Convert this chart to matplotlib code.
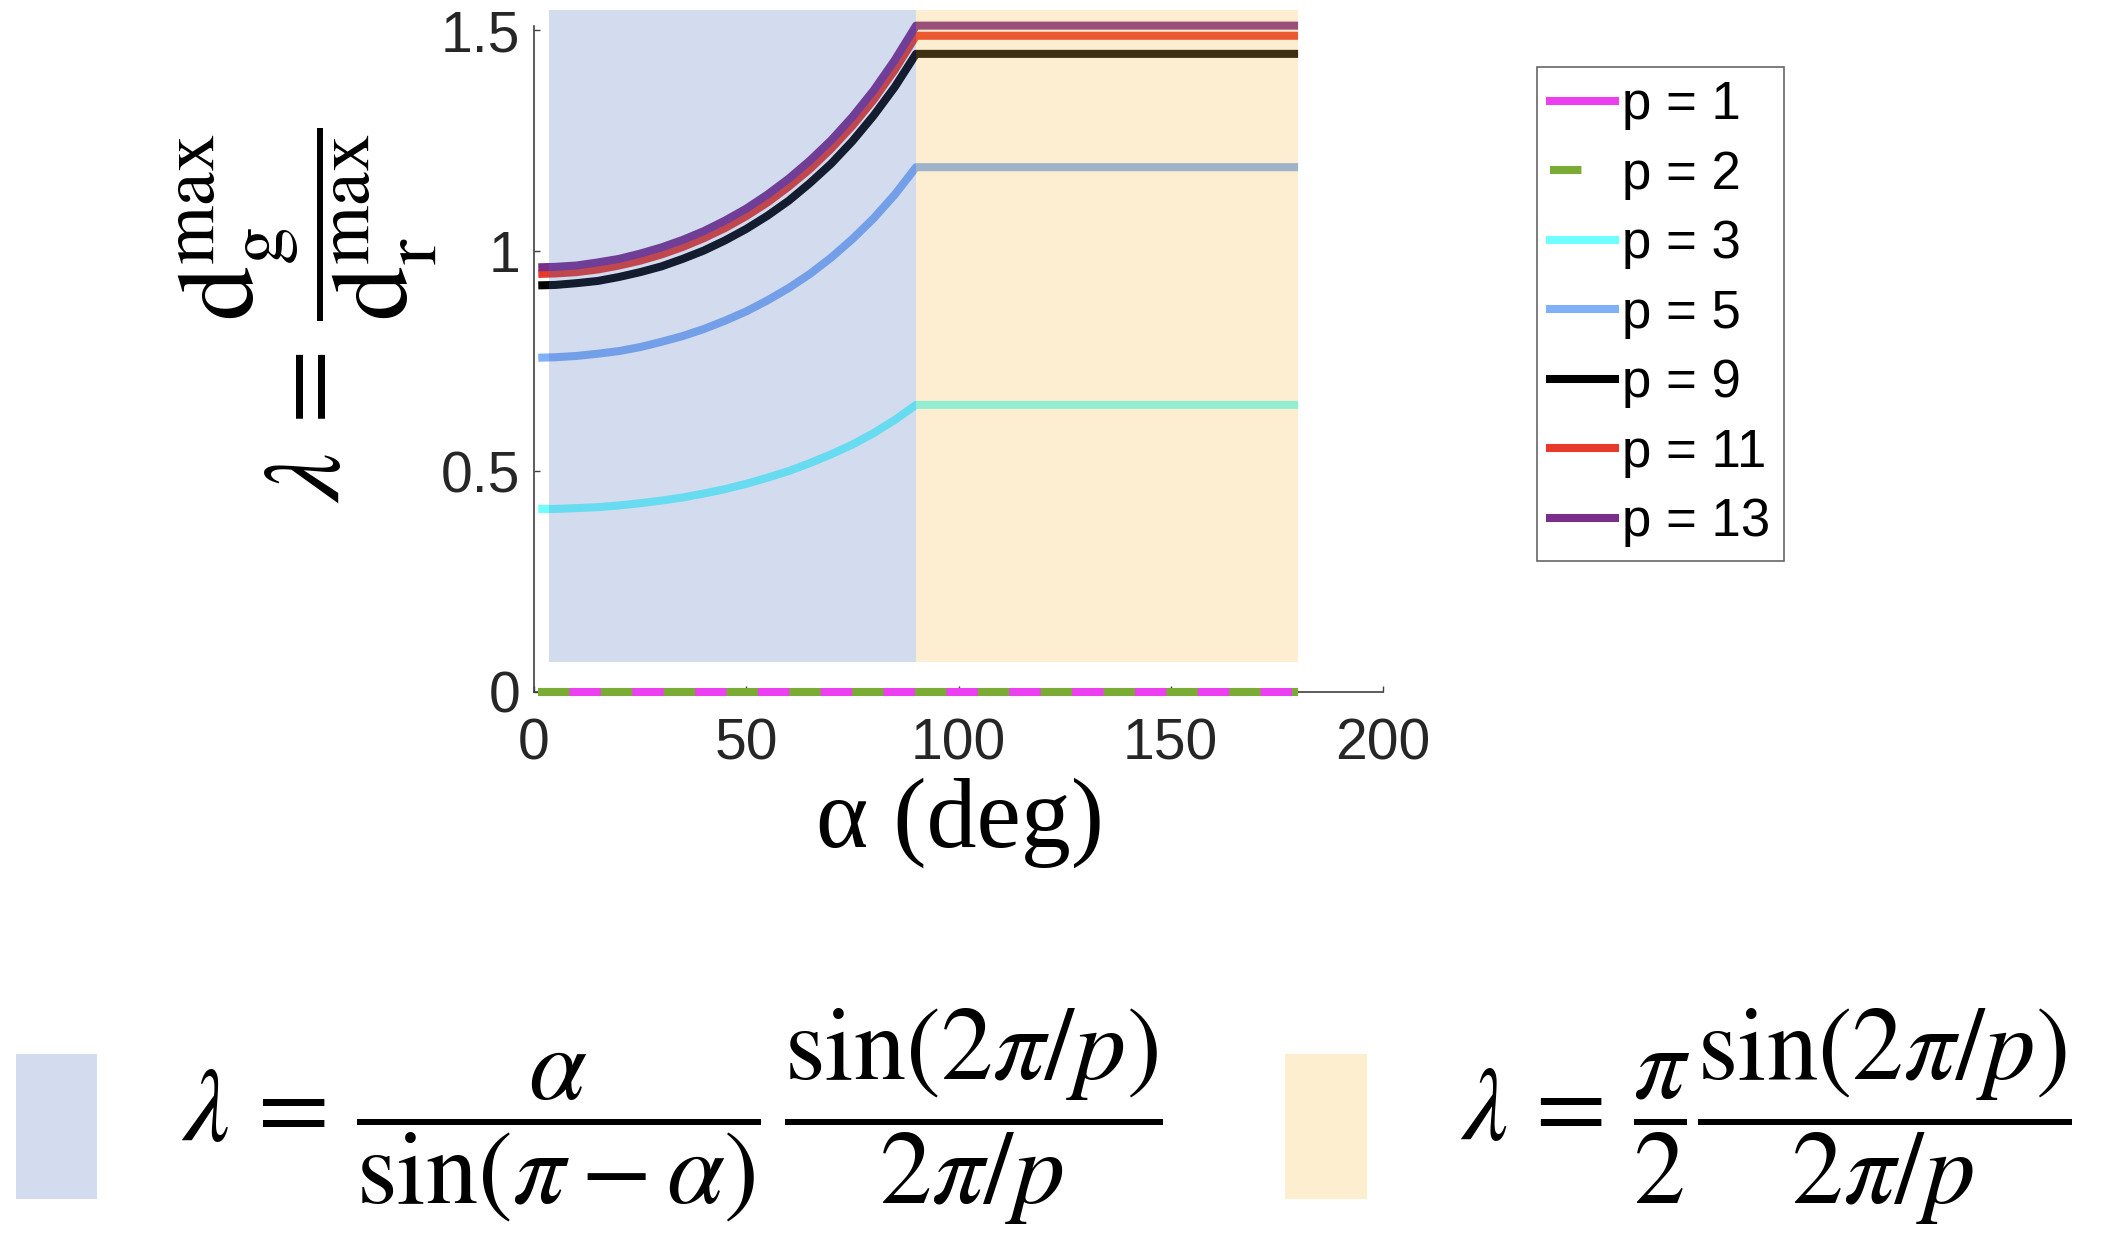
import numpy as np
import matplotlib
matplotlib.use('Agg')
import matplotlib.pyplot as plt
from matplotlib.lines import Line2D
from matplotlib.patches import Rectangle

# Data
alpha_deg = [1, 5, 10, 15, 20, 25, 30, 35, 40, 45, 50, 55, 60, 65, 70, 75, 80, 85, 90, 180]
alpha_flat = [1, 180]
lam_p1 = [0.0, 0.0]
lam_p2 = [0.0, 0.0]
lam_p3 = [0.414, 0.414, 0.416, 0.418, 0.422, 0.427, 0.433, 0.440, 0.449, 0.459,
          0.471, 0.485, 0.500, 0.518, 0.538, 0.560, 0.586, 0.616, 0.650, 0.650]
lam_p5 = [0.757, 0.758, 0.761, 0.766, 0.772, 0.781, 0.793, 0.806, 0.822, 0.841,
          0.862, 0.887, 0.915, 0.947, 0.984, 1.026, 1.073, 1.127, 1.189, 1.189]
lam_p9 = [0.921, 0.922, 0.926, 0.931, 0.940, 0.951, 0.964, 0.981, 1.000, 1.023,
          1.049, 1.079, 1.113, 1.153, 1.197, 1.248, 1.306, 1.371, 1.446, 1.446]
lam_p11 = [0.947, 0.948, 0.951, 0.957, 0.966, 0.977, 0.991, 1.008, 1.028, 1.051,
           1.078, 1.109, 1.145, 1.185, 1.231, 1.283, 1.342, 1.410, 1.487, 1.487]
lam_p13 = [0.962, 0.963, 0.966, 0.973, 0.981, 0.993, 1.007, 1.024, 1.044, 1.068,
           1.095, 1.127, 1.163, 1.204, 1.250, 1.303, 1.363, 1.432, 1.510, 1.510]
labels = ['p = 1', 'p = 2', 'p = 3', 'p = 5', 'p = 9', 'p = 11', 'p = 13']

# Shaded regions (alpha < 90 and alpha >= 90)
region_x = [3.5, 90, 180]
region_y = [0.067, 1.545]

colors = ['#ec40f0', '#7aab35', '#70ffff', '#80b0f8', '#000000', '#e83a2a', '#7b2d8a']
shade = ['#5070c0', '#f8b848']
lw = 5.8

plt.rcParams['mathtext.fontset'] = 'stix'
sans = 'Liberation Sans'
serif = 'Liberation Serif'

fig = plt.figure(figsize=(21.05, 12.38), dpi=100)
ax = fig.add_axes([0.2537, 0.4414, 0.4033, 0.5379])

# Curves
series = [(alpha_flat, lam_p1), (alpha_flat, lam_p2), (alpha_deg, lam_p3), (alpha_deg, lam_p5),
          (alpha_deg, lam_p9), (alpha_deg, lam_p11), (alpha_deg, lam_p13)]
for i, (x, y) in enumerate(series):
  if i == 1:
    ax.plot(x, y, color=colors[i], lw=lw, dashes=[3.9, 3.9], solid_capstyle='butt',
            clip_on=False, zorder=3.1)
  else:
    ax.plot(x, y, color=colors[i], lw=lw, solid_capstyle='butt', solid_joinstyle='round',
            clip_on=False, zorder=3)

# Shading overlays on top of the lines
for k in range(2):
  ax.add_patch(Rectangle((region_x[k], region_y[0]), region_x[k + 1] - region_x[k],
                         region_y[1] - region_y[0], facecolor=shade[k], alpha=0.25,
                         edgecolor='none', clip_on=False, zorder=4))

ax.set_xlim(0, 200)
ax.set_ylim(0, 1.51)
ax.set_xticks([0, 50, 100, 150, 200])
ax.set_yticks([0, 0.5, 1, 1.5])
ax.set_yticklabels(['0', '0.5', '1', '1.5'])
for s in ['top', 'right']:
  ax.spines[s].set_visible(False)
for s in ['left', 'bottom']:
  ax.spines[s].set_color('#404040')
  ax.spines[s].set_linewidth(1.2)
ax.tick_params(direction='in', length=4.5, width=1.0, color='#404040',
               labelsize=41, labelcolor='#262626')
ax.tick_params(axis='x', pad=19)
ax.tick_params(axis='y', pad=10)
for t in ax.get_xticklabels() + ax.get_yticklabels():
  t.set_fontfamily(sans)

# Axis labels
fig.text(960 / 2105, 1 - 823 / 1238, 'α (deg)', fontsize=72, family=serif,
         ha='center', va='center')
fig.text(308 / 2105, 1 - 315 / 1238,
         r'$\lambda\,=\,\dfrac{\mathrm{d}_{\mathrm{g}}^{\mathrm{max}}}{\mathrm{d}_{\mathrm{r}}^{\mathrm{max}}}$',
         fontsize=78, rotation=90, ha='center', va='center')

# Legend
handles = []
for i in range(7):
  if i == 1:
    handles.append(Line2D([], [], color=colors[i], lw=lw, dashes=[3.9, 6]))
  else:
    handles.append(Line2D([], [], color=colors[i], lw=lw))
leg = fig.legend(handles, labels, loc='upper left',
                 bbox_to_anchor=(1537 / 2105, 1 - 67 / 1238),
                 prop={'family': sans, 'size': 38}, frameon=True, fancybox=False,
                 edgecolor='#404040', handlelength=1.22, handletextpad=0.15,
                 labelspacing=0.37, borderpad=0.25, borderaxespad=0)
leg.get_frame().set_linewidth(1.2)

# Formula boxes and equations
fig.patches.append(Rectangle((16 / 2105, 1 - 1199 / 1238), 81 / 2105, 145 / 1238,
                             transform=fig.transFigure, facecolor='#d3dcee', edgecolor='none'))
fig.patches.append(Rectangle((1285 / 2105, 1 - 1199 / 1238), 82 / 2105, 145 / 1238,
                             transform=fig.transFigure, facecolor='#fdeecf', edgecolor='none'))
fig.text(181 / 2105, 1 - 1117 / 1238,
         r'$\lambda\,=\,\dfrac{\alpha}{\sin(\pi - \alpha)}\,\dfrac{\sin(2\pi/p)}{2\pi/p}$',
         fontsize=75, ha='left', va='center')
fig.text(1460 / 2105, 1 - 1117 / 1238,
         r'$\lambda\,=\,\dfrac{\pi}{2}\dfrac{\sin(2\pi/p)}{2\pi/p}$',
         fontsize=74, ha='left', va='center')

fig.savefig('out.png', dpi=100)
